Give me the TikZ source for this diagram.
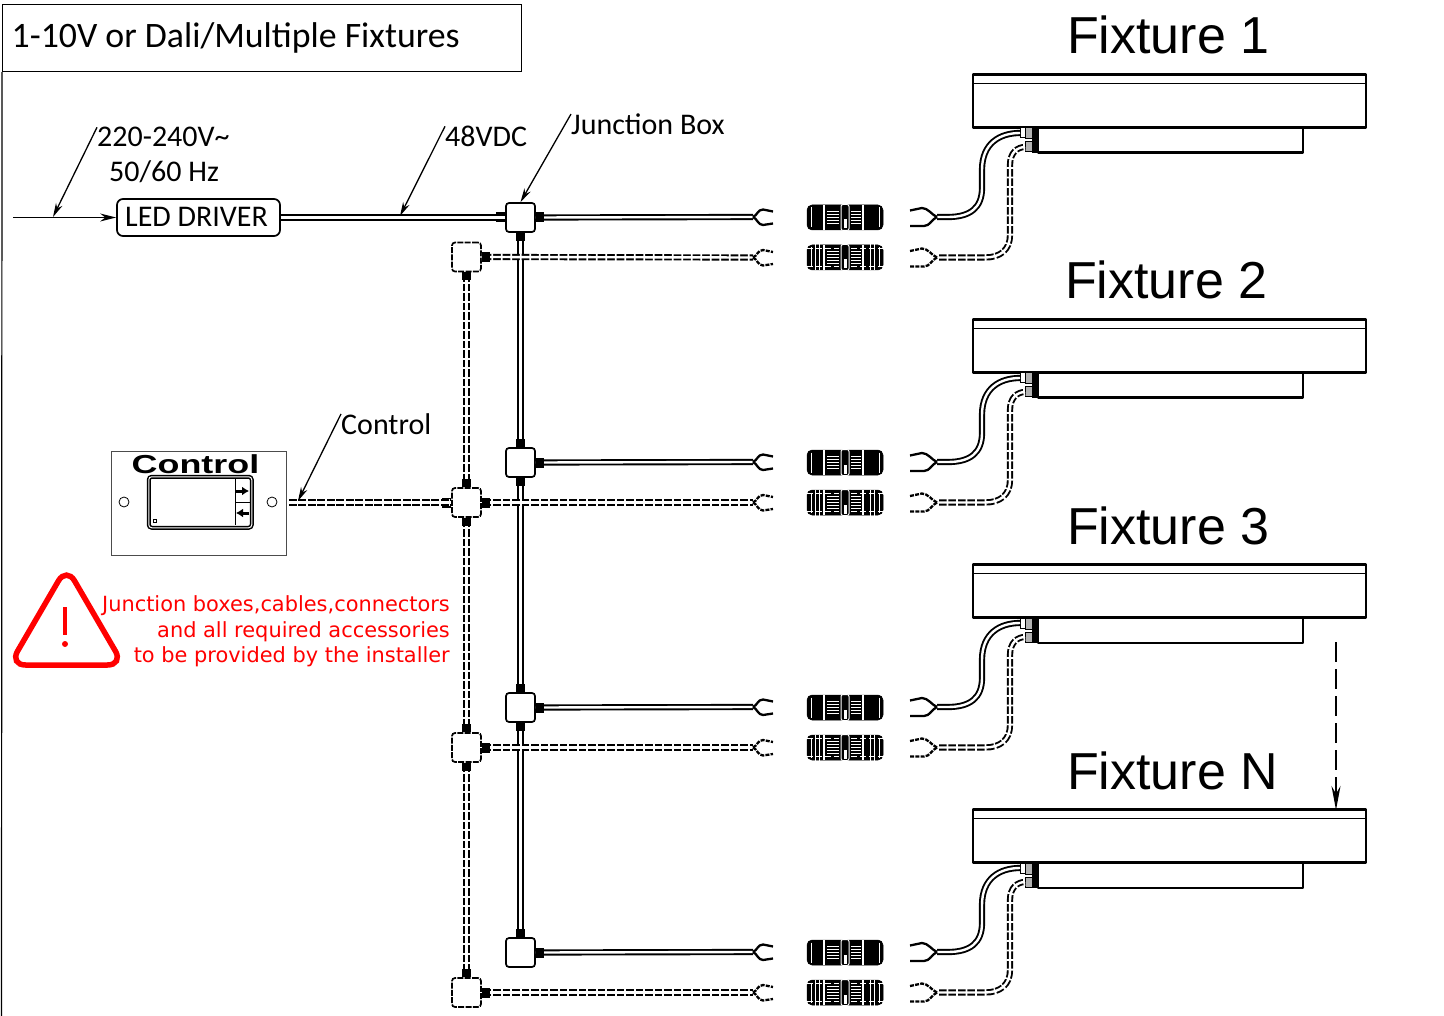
\documentclass[tikz,border=0pt]{standalone}
\usepackage{fontspec}
\setmainfont{Carlito}
\newfontfamily\arialf{Liberation Sans}
\newfontfamily\warnf{DejaVu Sans}
\usetikzlibrary{arrows.meta,calc}
\tikzset{
  x=1pt,y=-1pt,
  cable/.style={draw,line width=1.9pt,double,double distance=2.4pt},
  dcable/.style={cable,postaction={draw=white,line width=7.5pt,dash pattern=on 1.7pt off 7.8pt}},
  sfork/.style={line width=2.3pt},
  dfork/.style={line width=2.3pt,dash pattern=on 4pt off 1.2pt},
  jbox/.style={draw,fill=white,line width=1.7pt,rounded corners=3pt,minimum size=29pt,inner sep=0pt},
  djbox/.style={draw,fill=white,line width=1.7pt,rounded corners=3pt,minimum size=29pt,inner sep=0pt,dash pattern=on 6pt off 1.3pt},
  leader/.style={draw,line width=1.3pt,-{Stealth[length=14pt,width=7pt]}},
  lbl/.style={font=\fontsize{30}{36}\selectfont,anchor=base west,inner sep=0pt},
  fixlbl/.style={font=\arialf\fontsize{52}{60}\selectfont,anchor=base west,inner sep=0pt},
  warn/.style={font=\warnf\fontsize{20.9}{26}\selectfont,text=red,anchor=base east,inner sep=0pt},
  portb/.style={fill=black},
  body/.style={draw,fill=white,line width=2.8pt,line join=round},
  blobbody/.style={draw=black,fill=black,line width=.5pt,rounded corners=5pt,minimum width=76pt,minimum height=25pt,inner sep=0pt},
}
% small black cable glands on the sides of the boxes
\newcommand\pe[1]{\fill[portb] ($(#1.east)+(0,-5)$) rectangle ($(#1.east)+(8,5)$);}
\newcommand\pw[1]{\fill[portb] ($(#1.west)+(0,-5)$) rectangle ($(#1.west)+(-9,5)$);}
\newcommand\pn[1]{\fill[portb] ($(#1.north)+(-4.5,0)$) rectangle ($(#1.north)+(4.5,-8)$);}
\newcommand\ps[1]{\fill[portb] ($(#1.south)+(-4.5,0)$) rectangle ($(#1.south)+(4.5,8)$);}
\begin{document}
\begin{tikzpicture}
\useasboundingbox (0,0) rectangle (1444,1016);
\fill[white] (0,0) rectangle (1444,1016);
% frame and title
\node[draw,line width=1.2pt,anchor=north west,minimum width=519pt,minimum height=67pt,inner sep=0pt] (title) at (2,4) {};
\node[lbl,font=\fontsize{35.8}{42}\selectfont] (titletext) at (11.5,48) {1-10V or Dali/Multiple Fixtures};
\coordinate (fb) at (1.5,1016);
\draw[line width=1.2pt] (title.south west) -- (fb);
% junction boxes
\foreach \r/\yy in {1/217.5,2/462.5,3/707.5,4/952.5}{
  \node[jbox] (J\r) at (520.5,\yy) {};
}
\foreach \r/\yy in {1/257,2/502.5,3/747.5,4/992.5}{
  \node[djbox] (D\r) at (466.5,\yy) {};
}
% solid trunk
\path[cable] (J1) -- (J2);
\path[cable] (J2) -- (J3);
\path[cable] (J3) -- (J4);
% dashed trunk
\path[dcable] (D1) -- (D2);
\path[dcable] (D2) -- (D3);
\path[dcable] (D3) -- (D4);
% rows
\foreach \r/\yy/\lab/\lx in {1/0/Fixture 1/1067,2/245/Fixture 2/1065,3/490/Fixture 3/1067,4/735/Fixture N/1067}{
\begin{scope}[shift={(0,\yy)}]
  % left flying leads
  \coordinate (fa\r) at (753,217);
  \coordinate (fc\r) at (753,257.5);
  \path[cable] (J\r.east) -- (fa\r);
  \path[dcable] (D\r.east) -- (fc\r);
  \draw[sfork] (fa\r) .. controls (757,215.5) and (758,209.5) .. (763,209.5) -- (773,211.5);
  \draw[sfork] (fa\r) .. controls (757,218.5) and (758,225) .. (763,225) -- (773,223.5);
  \draw[dfork] (fc\r) .. controls (757,256) and (758,250) .. (763,250) -- (773,252);
  \draw[dfork] (fc\r) .. controls (757,259) and (758,265.5) .. (763,265.5) -- (773,264);
  % in-line connectors
  \foreach \n/\c in {a/217.5,c/257.5}{
    \node[blobbody] (B\n\r) at (845,\c) {};
    \foreach \dx in {-21,18}{
      \draw[white,line width=1.1pt] ($(B\n\r)+(\dx,-12.5)$) -- ($(B\n\r)+(\dx,12.5)$);
    }
    \foreach \dy in {-6,-3,0,3,6}{
      \draw[white,line width=.9pt] ($(B\n\r)+(-18,\dy)$) -- ($(B\n\r)+(-6,\dy)$);
      \draw[white,line width=.9pt] ($(B\n\r)+(6,\dy)$) -- ($(B\n\r)+(16,\dy)$);
    }
    \draw[white,line width=1pt,fill=black,rounded corners=2pt] ($(B\n\r)+(-4,-13)$) rectangle ($(B\n\r)+(4,13)$);
    \fill[white] ($(B\n\r)+(-1.5,2)$) rectangle ($(B\n\r)+(1.5,11)$);
    \draw[white,line width=.6pt] ($(B\n\r)+(-34,-10)$) -- ($(B\n\r)+(-34,10)$);
    \draw[white,line width=.6pt] ($(B\n\r)+(34,-10)$) -- ($(B\n\r)+(34,10)$);
  }
  \foreach \dx in {-30,-26,25,29}{
    \draw[white,line width=.6pt] ($(Bc\r)+(\dx,-13)$) -- ($(Bc\r)+(\dx,13)$);
  }
  \foreach \dy in {-9,9}{
    \draw[white,line width=.6pt,dash pattern=on 6pt off 3pt] ($(Bc\r)+(-38,\dy)$) -- ($(Bc\r)+(-6,\dy)$);
    \draw[white,line width=.6pt,dash pattern=on 6pt off 3pt] ($(Bc\r)+(6,\dy)$) -- ($(Bc\r)+(38,\dy)$);
  }
  % fixture
  \node[fixlbl] (L\r) at (\lx,54) {\lab};
  \node[body,minimum width=265pt,minimum height=25pt,inner sep=0pt,anchor=north west] (Lo\r) at (1036.5,126.5) {};
  \node[body,minimum width=393pt,minimum height=53pt,inner sep=0pt,anchor=north west] (F\r) at (971.5,73.3) {};
  \draw[line width=1.6pt] (972,83.5) -- (F\r.east |- 0,83.5);
  % stubs
  \coordinate (sa\r) at (1020,133);
  \coordinate (sc\r) at (1025,147);
  \draw[line width=1pt,fill=white] (1020,128) rectangle (1025,138);
  \draw[line width=1pt,fill=black!30] (1025,128) rectangle (1032,139);
  \draw[line width=1pt,fill=black!30] (1025,142) rectangle (1032,152);
  \fill[black] (1032,127) rectangle (1038,153);
  % right leads
  \coordinate (ra\r) at (937,217);
  \coordinate (rc\r) at (937,257.5);
  \path[cable] (sa\r) .. controls (1000,133) and (982,143) .. (982,170) -- (982,188) .. controls (982,208) and (970,217) .. (948,217) -- (ra\r);
  \path[dcable] (sc\r) .. controls (1018,147) and (1010,152) .. (1010,165) -- (1010,235) .. controls (1010,250) and (1000,257.5) .. (985,257.5) -- (rc\r);
  \draw[sfork] (ra\r) .. controls (932,215) and (928,208) .. (922,208) -- (910,210.5);
  \draw[sfork] (ra\r) .. controls (932,219) and (930,226) .. (924,226) -- (910,226);
  \draw[dfork] (rc\r) .. controls (932,255.5) and (928,248.5) .. (922,248.5) -- (910,251);
  \draw[dfork] (rc\r) .. controls (932,259.5) and (930,266.5) .. (924,266.5) -- (910,266.5);
\end{scope}
}
% cable glands
\foreach \r in {1,2,3,4}{\pe{J\r}\pe{D\r}}
\foreach \r in {1,2,3}{\ps{J\r}\ps{D\r}}
\foreach \r in {2,3,4}{\pn{J\r}\pn{D\r}}
\pw{J1}\pw{D2}
% LED driver
\node[draw,line width=1.7pt,rounded corners=6pt,minimum width=163pt,minimum height=37pt,inner sep=0pt] (drv) at (198.5,217.5) {};
\node[lbl] (drvt) at (125,227) {LED DRIVER};
\coordinate (in) at (13,217.5);
\draw[line width=1.3pt,-{Stealth[length=16pt,width=8pt]}] (in) -- (drv.west);
\path[cable] (drv.east) -- (J1.west);
% control panel
\node[draw=black!70,line width=1.1pt,minimum width=175pt,minimum height=104pt,inner sep=0pt,anchor=north west] (ctl) at (111,451) {};
\node[font=\arialf\bfseries\fontsize{26}{30}\selectfont,xscale=1.38,inner sep=0pt,anchor=base] (ctltxt) at (195.5,473) {Control};
\node[draw,line width=1.5pt,rounded corners=3pt,minimum width=103pt,minimum height=51pt,inner sep=0pt,anchor=north west,fill=white,double=white,double distance=1pt] (scr) at (148,476) {};
\draw[line width=1pt] (235,478) -- (235,525);
\draw[line width=1pt] (235,502) -- (250,502);
\node[draw,line width=.8pt,circle,minimum size=10pt,inner sep=0pt] (c1) at (124,502) {};
\node[draw,line width=.8pt,circle,minimum size=10pt,inner sep=0pt] (c2) at (272,502) {};
\draw[line width=3pt,-{Latex[length=7pt,width=9pt]}] (236,491) -- (249,491);
\draw[line width=3pt,-{Latex[length=7pt,width=9pt]}] (249,513) -- (236,513);
\draw[line width=.8pt] (153,519) rectangle (156,522);
\path[dcable] (ctl.east |- D2.west) -- (D2.west);
% labels and leaders
\node[lbl] (t1) at (97,147) {220-240V\char"7E};
\node[lbl] (t2) at (109,182) {50/60 Hz};
\node[lbl] (t3) at (445,147) {48VDC};
\node[lbl] (t4) at (571,135) {Junction Box};
\node[lbl] (t5) at (341,435) {Control};
\coordinate (e1) at (53,217);
\coordinate (e2) at (400,216);
\coordinate (e5) at (298,501);
\draw[leader] (t1.north west) -- (e1);
\draw[leader] (t3.north west) -- (e2);
\draw[leader] (t4.north west) -- (J1.north);
\draw[leader] (t5.north west) -- (e5);
% warning
\draw[red,line width=5.5pt,rounded corners=16pt] (66.5,567) -- (9.5,665) -- (123.5,665) -- cycle;
\draw[red,line width=4pt] (65,607) -- (65,635);
\fill[red] (65,644) circle (3pt);
\node[warn] (w1) at (450,611) {Junction boxes,cables,connectors};
\node[warn] (w2) at (450,637) {and all required accessories};
\node[warn] (w3) at (450,662) {to be provided by the installer};
% dashed arrow between fixtures
\coordinate (da) at (1336,642);
\draw[line width=1.6pt,dash pattern=on 20pt off 7pt,-{Stealth[length=24pt,width=9pt]}] (da) -- (1336,810);
\end{tikzpicture}
\end{document}
